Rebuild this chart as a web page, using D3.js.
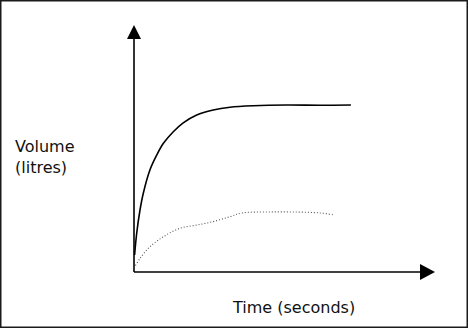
<!DOCTYPE html>
<html>
<head>
<meta charset="utf-8">
<script src="https://cdn.jsdelivr.net/npm/d3@7"></script>
<style>
  body { margin: 0; background: #fff; }
  svg { display: block; }
</style>
</head>
<body>
<svg></svg>
<script>
// sketch values (arbitrary units, 0-100)
const solidTime = [0.2, 0.9, 2, 3.1, 5.3, 7.6, 9.8, 13.1, 16.4, 20.9, 26.4, 32, 39.8, 50.9, 62, 72.3]
const solidVolume = [6.9, 15.7, 25.1, 31.9, 41.3, 47.4, 52.1, 56.8, 60.4, 63.6, 65.6, 66.7, 67.3, 67.6, 67.5, 67.6]

const dottedTime = [0, 2, 5.3, 9.8, 15.3, 20.9, 26.4, 32, 36, 44.3, 53, 62, 66.7]
const dottedVolume = [1.6, 5.5, 10.2, 14.3, 17.7, 19, 20.4, 22.4, 23.9, 24.3, 24.3, 23.9, 23.1]

const xLabel = 'Time (seconds)'
const yLabel = ['Volume', '(litres)']

const width = 468
const height = 328

const svg = d3.select('svg')
    .attr('width', width)
    .attr('height', height)

// frame round the picture
svg.append('rect')
    .attr('x', 0.75)
    .attr('y', 0.75)
    .attr('width', width - 1.5)
    .attr('height', height - 1.5)
    .attr('fill', '#fff')
    .attr('stroke', '#1a1a1a')
    .attr('stroke-width', 1.5)

const x = d3.scaleLinear().domain([0, 100]).range([134, 434])
const y = d3.scaleLinear().domain([0, 100]).range([272, 25])

// axes with arrow heads
svg.append('line')
    .attr('x1', x(0)).attr('y1', y(0))
    .attr('x2', x(0)).attr('y2', y(95))
    .attr('stroke', '#000')
    .attr('stroke-width', 1.6)

svg.append('line')
    .attr('x1', x(0)).attr('y1', y(0))
    .attr('x2', x(96)).attr('y2', y(0))
    .attr('stroke', '#000')
    .attr('stroke-width', 1.6)

svg.append('path')
    .attr('d', `M${x(0)},${y(100)} L${x(0) - 7},${y(100) + 14} L${x(0) + 7},${y(100) + 14} Z`)
    .attr('fill', '#000')

svg.append('path')
    .attr('d', `M${x(100) + 1},${y(0)} L${x(100) - 14},${y(0) - 8} L${x(100) - 14},${y(0) + 8} Z`)
    .attr('fill', '#000')

const line = d3.line()
    .x(d => x(d[0]))
    .y(d => y(d[1]))
    .curve(d3.curveCatmullRom.alpha(0.5))

svg.append('path')
    .datum(d3.zip(solidTime, solidVolume))
    .attr('d', line)
    .attr('fill', 'none')
    .attr('stroke', '#000')
    .attr('stroke-width', 1.6)

svg.append('path')
    .datum(d3.zip(dottedTime, dottedVolume))
    .attr('d', line)
    .attr('fill', 'none')
    .attr('stroke', '#555')
    .attr('stroke-width', 1.1)
    .attr('stroke-dasharray', '1,2')

// labels
const font = 'DejaVu Sans, sans-serif'

svg.append('text')
    .attr('x', 233)
    .attr('y', 313)
    .attr('font-family', font)
    .attr('font-size', 16)
    .attr('fill', '#111')
    .text(xLabel)

svg.append('g')
    .selectAll('text')
    .data(yLabel)
    .enter()
    .append('text')
    .attr('x', 15)
    .attr('y', (d, i) => 152 + i * 21)
    .attr('font-family', font)
    .attr('font-size', 16)
    .attr('fill', '#111')
    .text(d => d)
</script>
</body>
</html>
